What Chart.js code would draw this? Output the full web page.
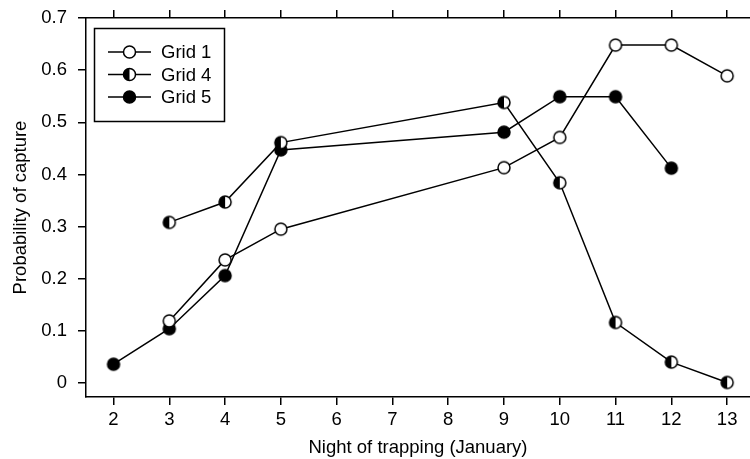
<!DOCTYPE html>
<html>
<head>
<meta charset="utf-8">
<script src="https://cdn.jsdelivr.net/npm/chart.js@4/dist/chart.umd.min.js"></script>
<style>
  body { margin: 0; background: #fff; overflow: hidden; }
  #wrap { width: 750px; height: 459px; }
</style>
</head>
<body>
<div id="wrap"><canvas id="myChart"></canvas></div>
<script>
// nights of trapping (January) and capture probabilities
const nights = [2, 3, 4, 5, 9, 10, 11, 12, 13];
const grid1 = [null, 0.119, 0.236, 0.295, 0.413, 0.471, 0.648, 0.648, 0.589];
const grid4 = [null, 0.308, 0.347, 0.461, 0.538, 0.384, 0.116, 0.040, 0.001];
const grid5 = [0.036, 0.104, 0.206, 0.447, 0.481, 0.549, 0.549, 0.412, null];

const xTicks = [2, 3, 4, 5, 6, 7, 8, 9, 10, 11, 12, 13];
const yTicks = [0, 0.1, 0.2, 0.3, 0.4, 0.5, 0.6, 0.7];

const FONT = "'Liberation Sans', Arial, sans-serif";
const FSIZE = 18.5;
const R = 6;

function points(values) {
    return nights.map((x, i) => ({ x: x, y: values[i] })).filter(p => p.y !== null);
}

// open, half (left black) or filled circle
function drawMarker(ctx, kind, x, y) {
    ctx.save();
    ctx.lineWidth = 1.5;
    ctx.strokeStyle = "#000";
    ctx.beginPath();
    ctx.arc(x, y, R, 0, Math.PI * 2);
    ctx.fillStyle = kind === "filled" ? "#000" : "#fff";
    ctx.fill();
    if (kind === "half") {
        ctx.beginPath();
        ctx.arc(x, y, R, Math.PI / 2, Math.PI * 1.5);
        ctx.closePath();
        ctx.fillStyle = "#000";
        ctx.fill();
    }
    ctx.beginPath();
    ctx.arc(x, y, R, 0, Math.PI * 2);
    ctx.stroke();
    ctx.restore();
}

function markerCanvas(kind) {
    const c = document.createElement("canvas");
    c.width = 2 * R + 4;
    c.height = 2 * R + 4;
    drawMarker(c.getContext("2d"), kind, c.width / 2, c.height / 2);
    return c;
}

const legendInside = {
    id: "legendInside",
    afterDraw(chart) {
        const ctx = chart.ctx;
        ctx.save();
        ctx.lineWidth = 1.5;
        ctx.strokeStyle = "#000";
        ctx.strokeRect(94.5, 28.5, 130, 93);
        chart.data.datasets.forEach((ds, i) => {
            const y = 52 + i * 22.5;
            ctx.beginPath();
            ctx.moveTo(108, y);
            ctx.lineTo(151, y);
            ctx.lineWidth = 1.5;
            ctx.stroke();
            drawMarker(ctx, ds.marker, 129.5, y);
            ctx.fillStyle = "#000";
            ctx.font = FSIZE + "px " + FONT;
            ctx.textBaseline = "middle";
            ctx.textAlign = "left";
            ctx.fillText(ds.label, 161, y + 1);
        });
        ctx.restore();
    }
};

const series = [
    { label: "Grid 1", values: grid1, marker: "open" },
    { label: "Grid 4", values: grid4, marker: "half" },
    { label: "Grid 5", values: grid5, marker: "filled" }
];

function noPad(s) {
    s.paddingLeft = 0;
    s.paddingRight = 0;
    s.paddingTop = 0;
    s.paddingBottom = 0;
}

const ctx = document.getElementById("myChart").getContext("2d");

new Chart(ctx, {
    type: "scatter",
    data: {
        datasets: series.map(s => ({
            label: s.label,
            marker: s.marker,
            data: points(s.values),
            showLine: true,
            borderColor: "#000",
            borderWidth: 1.5,
            pointStyle: markerCanvas(s.marker),
            pointRadius: R,
            pointHoverRadius: R
        }))
    },
    options: {
        responsive: true,
        maintainAspectRatio: false,
        animation: false,
        layout: { padding: 0, autoPadding: false },
        plugins: {
            legend: { display: false },
            tooltip: { enabled: false }
        },
        scales: {
            x: {
                type: "linear",
                position: "bottom",
                min: 1.507,
                max: 13.41,
                afterBuildTicks: s => { s.ticks = xTicks.map(v => ({ value: v })); },
                afterFit: s => { s.height = 62; noPad(s); },
                grid: { drawOnChartArea: false, tickLength: 8, color: "#000", lineWidth: 1.5 },
                border: { color: "#000", width: 1.5 },
                ticks: { color: "#000", padding: 4, maxRotation: 0, font: { size: FSIZE, family: FONT } },
                title: {
                    display: true,
                    text: "Night of trapping (January)",
                    color: "#000",
                    font: { size: FSIZE, family: FONT },
                    padding: { top: 0, bottom: 0 }
                }
            },
            xTop: {
                type: "linear",
                position: "top",
                min: 1.507,
                max: 13.41,
                afterBuildTicks: s => { s.ticks = xTicks.map(v => ({ value: v })); },
                afterFit: s => { s.height = 18; noPad(s); },
                grid: { drawOnChartArea: false, tickLength: 8, color: "#000", lineWidth: 1.5 },
                border: { color: "#000", width: 1.5 },
                ticks: { display: false }
            },
            y: {
                type: "linear",
                min: -0.0269,
                max: 0.7,
                afterBuildTicks: s => { s.ticks = yTicks.map(v => ({ value: v })); },
                afterFit: s => { s.width = 86; noPad(s); },
                grid: { drawOnChartArea: false, tickLength: 8, color: "#000", lineWidth: 1.5 },
                border: { color: "#000", width: 1.5 },
                ticks: {
                    color: "#000",
                    padding: 11,
                    font: { size: FSIZE, family: FONT },
                    callback: v => String(+v.toFixed(1))
                },
                title: {
                    display: true,
                    text: "Probability of capture",
                    color: "#000",
                    font: { size: FSIZE, family: FONT },
                    padding: { top: 10, bottom: 0 }
                }
            }
        }
    },
    plugins: [legendInside]
});
</script>
</body>
</html>
